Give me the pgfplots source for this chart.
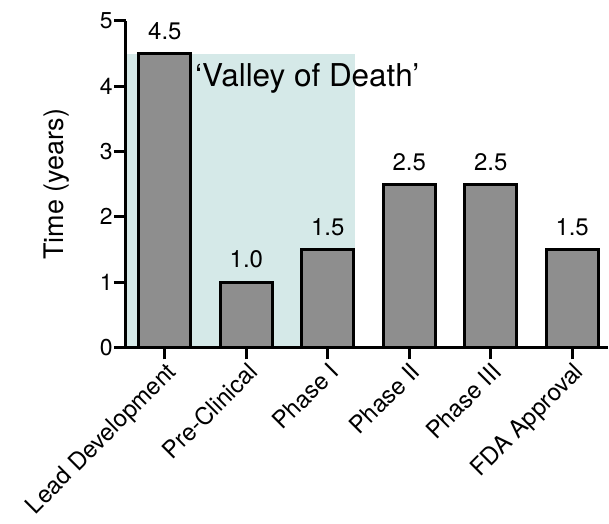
\documentclass[border=0pt]{standalone}
\usepackage{fontspec}
\setmainfont{TeX Gyre Heros}
\usepackage{pgfplots}
\pgfplotsset{compat=1.18}
\definecolor{barfill}{HTML}{8E8E8E}
\definecolor{valley}{HTML}{D5E9E8}
\begin{document}
\begin{tikzpicture}
\begin{axis}[
  scale only axis, width=483pt, height=327pt,
  xmin=-0.48, xmax=5.44, ymin=0, ymax=5,
  axis x line*=bottom, axis y line*=left,
  axis line style={line width=3pt, black},
  axis on top=true,
  /pgf/number format/assume math mode=true,
  xtick={0,1,2,3,4,5},
  xticklabels={Lead Development, Pre-Clinical, Phase I, Phase II, Phase III, FDA Approval},
  ytick={0,1,2,3,4,5},
  tick align=outside,
  major tick length=12pt,
  tick style={line width=3pt, black},
  x tick label style={rotate=45, anchor=north east, font=\fontsize{24}{27}\selectfont, inner sep=1pt},
  y tick label style={font=\fontsize{23}{26}\selectfont, inner sep=1pt},
  ylabel={Time (years)},
  ylabel style={font=\fontsize{27}{30}\selectfont, at={(axis description cs:-0.143,0.5)}, anchor=center},
  clip=false,
]
\addplot[fill=valley, draw=none, forget plot] coordinates {(-0.48,0) (-0.48,4.5) (2.34,4.5) (2.34,0)} -- cycle;
\addplot[ybar, bar width=0.64, fill=barfill, draw=black, line width=3pt,
  nodes near coords, nodes near coords style={font=\fontsize{24}{27}\selectfont, black, yshift=9pt},
  point meta=y, /pgf/number format/.cd, fixed, fixed zerofill, precision=1] coordinates {
  (0,4.5) (1,1.0) (2,1.5) (3,2.5) (4,2.5) (5,1.5)
};
\node[anchor=west, font=\fontsize{31.5}{35}\selectfont, inner sep=0pt] at (axis cs:0.37,4.12) {‘Valley of Death’};
\end{axis}
\pgfresetboundingbox
\path[use as bounding box] (-126pt,-176pt) rectangle (484pt,348pt);
\end{tikzpicture}
\end{document}
